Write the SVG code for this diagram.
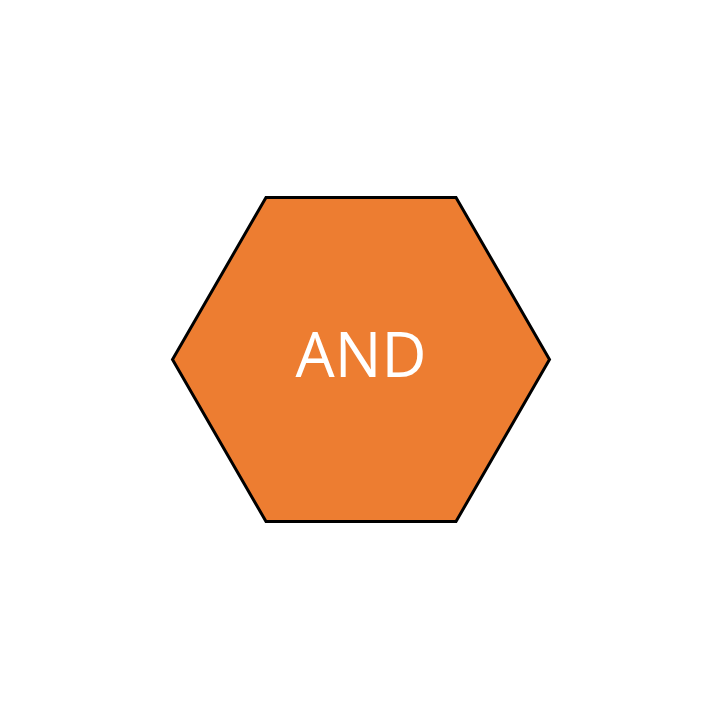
<svg xmlns="http://www.w3.org/2000/svg" width="720" height="720" viewBox="0 0 720 720">
<style>
.hex{fill:#ED7D31;stroke:#000;stroke-width:3;stroke-linejoin:miter}
.lbl{font-family:"Open Sans","Noto Sans",sans-serif;font-size:62px;fill:#fff;text-anchor:middle}
</style>
<rect width="720" height="720" fill="#fff"/>
<g id="node-and">
<polygon class="hex" points="266,197.5 456,197.5 549.5,359.5 456,521.5 266,521.5 172.5,359.5"/>
<text class="lbl" x="361" y="377">AND</text>
</g>
<g id="connectors"/>
</svg>
